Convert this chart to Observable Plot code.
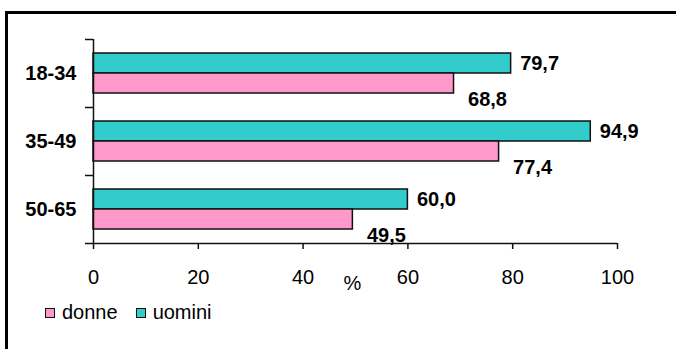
<!DOCTYPE html>
<html>
<head>
<meta charset="utf-8">
<script src="https://cdn.jsdelivr.net/npm/d3@7"></script>
<script src="https://cdn.jsdelivr.net/npm/@observablehq/plot@0.6"></script>
<style>
  html, body { margin: 0; padding: 0; background: #fff; }
  #page { position: relative; width: 676px; height: 349px; overflow: hidden; font-family: "Liberation Sans", Arial, sans-serif; }
  #frame { position: absolute; left: 5px; top: 11px; width: 700px; height: 400px; border-left: 3px solid #000; border-top: 3px solid #000; box-sizing: border-box; }
  #chart { position: absolute; left: 0; top: 0; }
  #legend { position: absolute; left: 45px; top: 301px; display: flex; align-items: center; font-size: 20px; color: #000; }
  #legend .item { display: flex; align-items: center; margin-right: 18px; }
  #legend .sw { width: 8px; height: 8px; border: 1.5px solid #111; margin-right: 7px; }
</style>
</head>
<body>
<div id="page">
  <div id="frame"></div>
  <div id="chart"></div>
  <div id="legend"></div>
</div>
<script>
// Age groups and percentages by sex
const categories = ["18-34", "35-49", "50-65"];
const donne = [68.8, 77.4, 49.5];
const uomini = [79.7, 94.9, 60.0];
const xTicks = [0, 20, 40, 60, 80, 100];

const series = [
  {key: "uomini", values: uomini, color: "#33CCCC"},
  {key: "donne", values: donne, color: "#FF99CC"}
];

// Each age group occupies one unit on a linear y scale; the two bars sit
// inside it with equal white space above and below.
const pad = 14 / 68;
const barH = (1 - 2 * pad) / 2;

const rows = [];
categories.forEach((c, i) => {
  series.forEach((s, j) => {
    const y1 = i + pad + j * barH;
    rows.push({cat: c, sex: s.key, value: s.values[i], y1, y2: y1 + barH, color: s.color});
  });
});

const fmt = v => v.toFixed(1).replace(".", ",");
const font = "'Liberation Sans', Arial, sans-serif";

const chart = Plot.plot({
  width: 676,
  height: 295,
  marginLeft: 93,
  marginRight: 59,
  marginTop: 39,
  marginBottom: 52,
  style: {fontFamily: font, fontSize: "20px", color: "#000", background: "transparent", overflow: "visible"},
  x: {domain: [0, 100]},
  y: {domain: [0, categories.length], reverse: true},
  marks: [
    Plot.rectX(rows, {
      x1: 0, x2: "value", y1: "y1", y2: "y2",
      fill: "color", stroke: "#111", strokeWidth: 1.5
    }),
    // x axis line and ticks
    Plot.ruleY([categories.length], {stroke: "#111", strokeWidth: 1.5}),
    Plot.axisX(xTicks, {tickSize: 6, tickPadding: 20, stroke: "#111", strokeWidth: 1.5, fontSize: 20, label: null}),
    // y axis line with ticks on group boundaries
    Plot.ruleX([0], {y1: 0, y2: categories.length, stroke: "#111", strokeWidth: 1.5}),
    Plot.axisY(d3.range(categories.length + 1), {tickSize: 8, stroke: "#111", strokeWidth: 1.5, text: null, label: null}),
    Plot.axisY(categories.map((c, i) => i + 0.5), {
      tickSize: 0, tickPadding: 17, fontWeight: "bold", fontSize: 20,
      tickFormat: v => categories[Math.floor(v)], label: null
    }),
    // value labels
    Plot.text(rows.filter(d => d.sex === "uomini"), {
      x: "value", y: d => (d.y1 + d.y2) / 2, text: d => fmt(d.value),
      textAnchor: "start", dx: 9, fontWeight: "bold", fontSize: 20, fill: "#000"
    }),
    Plot.text(rows.filter(d => d.sex === "donne"), {
      x: "value", y: "y2", text: d => fmt(d.value),
      textAnchor: "start", dx: 14, dy: 6, fontWeight: "bold", fontSize: 20, fill: "#000"
    }),
    // axis unit
    Plot.text(["%"], {frameAnchor: "bottom", lineAnchor: "middle", dy: 40, dx: -3, fontSize: 20, fill: "#000"})
  ]
});
document.getElementById("chart").appendChild(chart);

// Legend: donne first, then uomini
const legend = document.getElementById("legend");
[series[1], series[0]].forEach(s => {
  const item = document.createElement("div");
  item.className = "item";
  const sw = document.createElement("span");
  sw.className = "sw";
  sw.style.background = s.color;
  const label = document.createElement("span");
  label.textContent = s.key;
  item.appendChild(sw);
  item.appendChild(label);
  legend.appendChild(item);
});
</script>
</body>
</html>
